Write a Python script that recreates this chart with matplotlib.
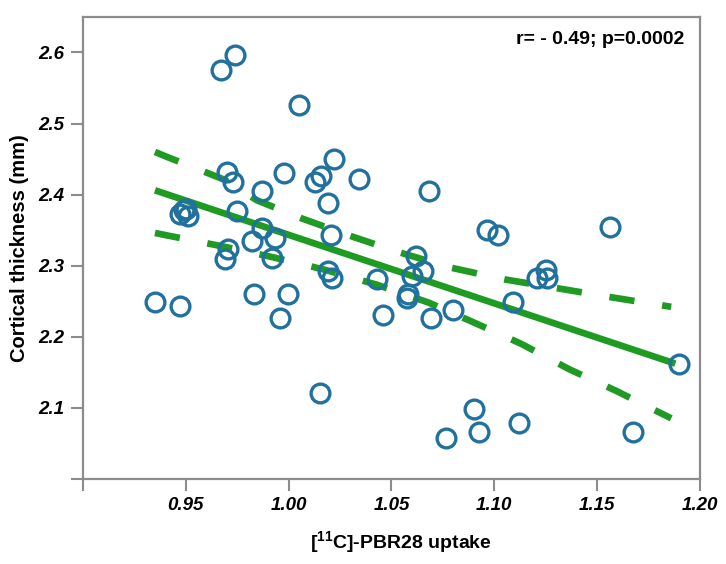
import numpy as np
import matplotlib
matplotlib.use("Agg")
import matplotlib.pyplot as plt

plt.rcParams['font.family'] = ['Liberation Sans', 'DejaVu Sans']
plt.rcParams['mathtext.fontset'] = 'custom'
plt.rcParams['mathtext.rm'] = 'Liberation Sans'
plt.rcParams['mathtext.bf'] = 'Liberation Sans:bold'

# Datos: captación [11C]-PBR28 vs. grosor cortical
uptake = [0.935, 0.947, 0.947, 0.949, 0.951, 0.950, 0.967, 0.974, 0.970, 0.973,
          0.975, 0.969, 0.9705, 0.982, 0.987, 0.987, 0.9935, 0.992, 0.983, 0.996,
          0.9995, 0.9975, 1.005, 1.0126, 1.0155, 1.022, 1.019, 1.0207, 1.019, 1.021,
          1.015, 1.034, 1.043, 1.0457, 1.058, 1.0577, 1.0617, 1.060, 1.0655, 1.068,
          1.0694, 1.0797, 1.0764, 1.090, 1.0926, 1.0966, 1.1016, 1.109, 1.112, 1.1207,
          1.125, 1.1257, 1.1563, 1.1676, 1.190]
thickness = [2.249, 2.243, 2.373, 2.378, 2.370, 2.380, 2.575, 2.597, 2.432, 2.417,
             2.377, 2.309, 2.3235, 2.334, 2.405, 2.353, 2.339, 2.311, 2.260, 2.226,
             2.260, 2.430, 2.526, 2.417, 2.426, 2.450, 2.388, 2.343, 2.293, 2.283,
             2.120, 2.422, 2.281, 2.231, 2.260, 2.254, 2.313, 2.286, 2.292, 2.405,
             2.226, 2.237, 2.058, 2.0986, 2.066, 2.350, 2.343, 2.249, 2.078, 2.283,
             2.294, 2.283, 2.355, 2.066, 2.161]

# Recta de regresión e intervalo de confianza
fit_x = [0.935, 1.188]
fit_y = [2.406, 2.162]
ci_up_x = [0.935, 0.940, 0.9687, 0.9845, 1.0063, 1.0318, 1.054, 1.079, 1.105, 1.131, 1.1556, 1.186]
ci_up_y = [2.460, 2.454, 2.421, 2.392, 2.3665, 2.340, 2.3185, 2.297, 2.2806, 2.268, 2.256, 2.242]
ci_lo_x = [0.935, 0.940, 0.968, 0.992, 1.0178, 1.043, 1.068, 1.090, 1.113, 1.1365, 1.159, 1.186]
ci_lo_y = [2.346, 2.343, 2.327, 2.312, 2.294, 2.273, 2.248, 2.220, 2.190, 2.154, 2.124, 2.085]

x_ticks = [0.90, 0.95, 1.00, 1.05, 1.10, 1.15, 1.20]
x_labels = ['', '0.95', '1.00', '1.05', '1.10', '1.15', '1.20']
y_ticks = [2.0, 2.1, 2.2, 2.3, 2.4, 2.5, 2.6]
y_labels = ['', '2.1', '2.2', '2.3', '2.4', '2.5', '2.6']

verde = '#1f9a23'
azul = '#21719f'
gris = '#8c8c8c'

fig = plt.figure(figsize=(7.26, 5.64), dpi=100)
ax = fig.add_axes([0.1143, 0.1512, 0.8499, 0.8187])

ax.plot(fit_x, fit_y, '-', color=verde, lw=4.8, solid_capstyle='butt', zorder=2)
ax.plot(ci_up_x, ci_up_y, color=verde, lw=4.8, linestyle=(0, (3.8, 4.2)), zorder=2)
ax.plot(ci_lo_x, ci_lo_y, color=verde, lw=4.8, linestyle=(0, (3.8, 4.2)), zorder=2)
ax.plot(uptake, thickness, 'o', ms=13.5, mfc='none', mec=azul, mew=2.4, zorder=3)

ax.set_xlim(0.90, 1.20)
ax.set_ylim(2.0, 2.65)
ax.set_xticks(x_ticks)
ax.set_xticklabels(x_labels, fontsize=13.5, fontweight='bold', style='italic')
ax.set_yticks(y_ticks)
ax.set_yticklabels(y_labels, fontsize=13.5, fontweight='bold', style='italic')
ax.tick_params(direction='out', length=8.5, width=1.5, color=gris, pad=5)
for s in ax.spines.values():
    s.set_color(gris)
    s.set_linewidth(1.6)

ax.set_xlabel(r'[$^{\mathbf{11}}$C]-PBR28 uptake', fontsize=14, fontweight='bold', labelpad=9)
ax.xaxis.set_label_coords(0.515, -0.11)
ax.set_ylabel('Cortical thickness (mm)', fontsize=14.5, fontweight='bold')
ax.yaxis.set_label_coords(-0.088, 0.5)
ax.text(0.975, 0.952, 'r= - 0.49; p=0.0002', transform=ax.transAxes, ha='right', va='center',
        fontsize=14, fontweight='bold')

fig.savefig('out.png', dpi=100)
